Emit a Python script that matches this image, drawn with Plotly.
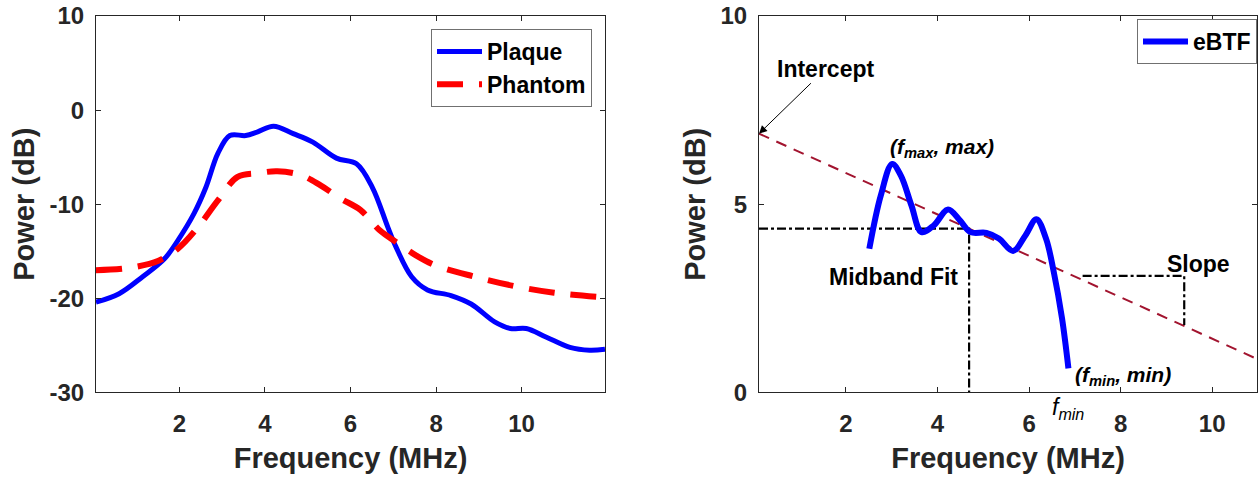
import plotly.graph_objects as go

# ---------------- data ----------------
# Left panel: power spectra
freq_plaque = [0.05, 0.59, 1.14, 1.65, 1.97, 2.34, 2.62, 2.9, 3.18, 3.55, 3.83, 4.2, 4.66,
               5.12, 5.67, 6.14, 6.51, 6.87, 7.06, 7.43, 7.8, 8.35, 8.82, 9.37, 9.74,
               10.11, 10.57, 11.13, 11.59, 11.95]
power_plaque = [-20.4, -19.5, -17.7, -15.8, -13.8, -11.0, -8.2, -4.6, -2.7, -2.7, -2.3, -1.7,
                -2.5, -3.4, -5.1, -5.7, -8.2, -12.4, -14.5, -17.7, -19.1, -19.7, -20.6,
                -22.5, -23.2, -23.2, -24.1, -25.2, -25.5, -25.4]
freq_phantom = [0.05, 0.77, 1.51, 1.97, 2.44, 2.9, 3.36, 3.83, 4.29, 4.84, 5.3, 5.77, 6.23,
                6.69, 7.06, 7.52, 7.99, 8.91, 9.84, 10.76, 11.95]
power_phantom = [-17.0, -16.8, -16.0, -14.7, -12.4, -9.6, -7.1, -6.7, -6.5, -6.9, -8.0, -9.4,
                 -10.6, -12.8, -14.0, -15.4, -16.5, -17.7, -18.7, -19.4, -19.9]

# Right panel: estimated backscatter transfer function
freq_ebtf = [2.51, 2.76, 3.01, 3.2, 3.43, 3.65, 3.92, 4.23, 4.49, 4.72, 5.07, 5.34, 5.65,
             5.92, 6.16, 6.37, 6.54, 6.72, 6.86]
power_ebtf = [3.82, 5.23, 6.07, 5.76, 4.97, 4.26, 4.44, 4.86, 4.57, 4.26, 4.24, 4.09, 3.76,
              4.17, 4.60, 4.09, 3.2, 1.97, 0.64]

# Linear fit of eBTF
fit_intercept = 6.93
fit_slope = -0.55
fit_freq = [0.1, 11.0]
fit_power = [fit_intercept + fit_slope * f for f in fit_freq]

# Midband fit guide
midband_freq = 4.69
midband_power = 4.35
# Slope guide
slope_freq = [7.17, 9.39, 9.39]
slope_power = [3.1, 3.1, 1.79]

x_ticks = [2, 4, 6, 8, 10]
x_ticktext = ["2", "4", "6", "8", "10"]
y_ticks_left = [-30, -20, -10, 0, 10]
y_ticktext_left = ["-30", "-20", "-10", "0", "10"]
y_ticks_right = [0, 5, 10]
y_ticktext_right = ["0", "5", "10"]

# ---------------- figure ----------------
FONT = "Liberation Sans"
DARK = "#262626"

fig = go.Figure()

fig.add_trace(go.Scatter(x=freq_plaque, y=power_plaque, mode="lines", name="Plaque",
                         line=dict(color="#0000FF", width=5, shape="spline"),
                         xaxis="x", yaxis="y", legend="legend"))
fig.add_trace(go.Scatter(x=freq_phantom, y=power_phantom, mode="lines", name="Phantom",
                         line=dict(color="#FF0000", width=6, dash="26px,16px", shape="spline"),
                         xaxis="x", yaxis="y", legend="legend"))

fig.add_trace(go.Scatter(x=fit_freq, y=fit_power, mode="lines", showlegend=False,
                         line=dict(color="#A2142F", width=2, dash="11px,8px"),
                         xaxis="x2", yaxis="y2"))
fig.add_trace(go.Scatter(x=[fit_freq[0], midband_freq, midband_freq],
                         y=[midband_power, midband_power, 0], mode="lines", showlegend=False,
                         line=dict(color="black", width=2.2, dash="dashdot"),
                         xaxis="x2", yaxis="y2"))
fig.add_trace(go.Scatter(x=slope_freq, y=slope_power, mode="lines", showlegend=False,
                         line=dict(color="black", width=2.2, dash="dashdot"),
                         xaxis="x2", yaxis="y2"))
fig.add_trace(go.Scatter(x=freq_ebtf, y=power_ebtf, mode="lines", name="eBTF",
                         line=dict(color="#0000FF", width=6, shape="spline"),
                         xaxis="x2", yaxis="y2", legend="legend2"))

axis_common = dict(
    showline=True, linecolor=DARK, linewidth=1, mirror="ticks",
    ticks="inside", ticklen=5, tickcolor=DARK, tickwidth=1,
    showgrid=False, zeroline=False, automargin=False, ticklabeloverflow="allow",
    tickfont=dict(family=FONT, size=24, color=DARK, weight="bold"),
    title_font=dict(family=FONT, size=29, color=DARK, weight="bold"),
)

W, H = 1258, 481
fig.update_layout(
    template="none",
    width=W, height=H,
    margin=dict(l=0, r=0, t=0, b=0, pad=0),
    paper_bgcolor="white", plot_bgcolor="white",
    xaxis=dict(domain=[0.07631, 0.48092], range=[0.05, 11.95], tickvals=x_ticks,
               ticktext=x_ticktext, ticklabelstandoff=10,
               title=dict(text="Frequency (MHz)", standoff=11), anchor="y", **axis_common),
    yaxis=dict(domain=[0.1840, 0.96674], range=[-30, 10], tickvals=y_ticks_left,
               ticktext=y_ticktext_left, ticklabelstandoff=6,
               title=dict(text="Power (dB)", standoff=6), anchor="x", **axis_common),
    xaxis2=dict(domain=[0.60334, 0.99921], range=[0.1, 10.98], tickvals=x_ticks,
                ticktext=x_ticktext, ticklabelstandoff=10,
                title=dict(text="Frequency (MHz)", standoff=11), anchor="y2", **axis_common),
    yaxis2=dict(domain=[0.1840, 0.96674], range=[0, 10], tickvals=y_ticks_right,
                ticktext=y_ticktext_right, ticklabelstandoff=6,
                title=dict(text="Power (dB)", standoff=6), anchor="x2", **axis_common),
    legend=dict(x=0.47059, y=0.93971, xanchor="right", yanchor="top",
                bgcolor="white", bordercolor="#707070", borderwidth=1,
                font=dict(family=FONT, size=23, color="black", weight="bold"),
                itemwidth=45, tracegroupgap=0),
    legend2=dict(x=0.99921, y=0.96050, xanchor="right", yanchor="top",
                 bgcolor="white", bordercolor="#707070", borderwidth=1,
                 font=dict(family=FONT, size=23, color="black", weight="bold"),
                 itemwidth=45),
    showlegend=True,
)

ann_font = dict(family=FONT, size=23, color="black", weight="bold")
fig.add_annotation(x=fit_freq[0], y=fit_intercept + fit_slope * fit_freq[0],
                   ax=1.56, ay=8.6, xref="x2", yref="y2", axref="x2", ayref="y2",
                   text="Intercept", showarrow=True, arrowhead=2, arrowsize=1.6,
                   arrowwidth=1, arrowcolor="black", font=ann_font)
fig.add_annotation(x=4.1, y=6.5, xref="x2", yref="y2", showarrow=False,
                   text="<i>(f<sub>max</sub>, max)</i>",
                   font=dict(family=FONT, size=21, color="black", weight="bold"))
fig.add_annotation(x=3.03, y=3.08, xref="x2", yref="y2", showarrow=False,
                   text="Midband Fit", font=ann_font)
fig.add_annotation(x=9.7, y=3.4, xref="x2", yref="y2", showarrow=False,
                   text="Slope", font=ann_font)
fig.add_annotation(x=6.95, y=0.45, xref="x2", yref="y2", showarrow=False, xanchor="left",
                   text="<i>(f<sub>min</sub>, min)</i>",
                   font=dict(family=FONT, size=21, color="black", weight="bold"))
fig.add_annotation(x=6.86, y=0.1164, xref="x2", yref="paper", showarrow=False,
                   text="<i>f<sub>min</sub></i>",
                   font=dict(family=FONT, size=23, color="black"))

# remove the browser's default 8px page margin so the figure fills the window exactly
fig.write_html("out.html",
               config={"displayModeBar": False},
               post_script="document.body.style.margin='0px';document.body.style.overflow='hidden';")
